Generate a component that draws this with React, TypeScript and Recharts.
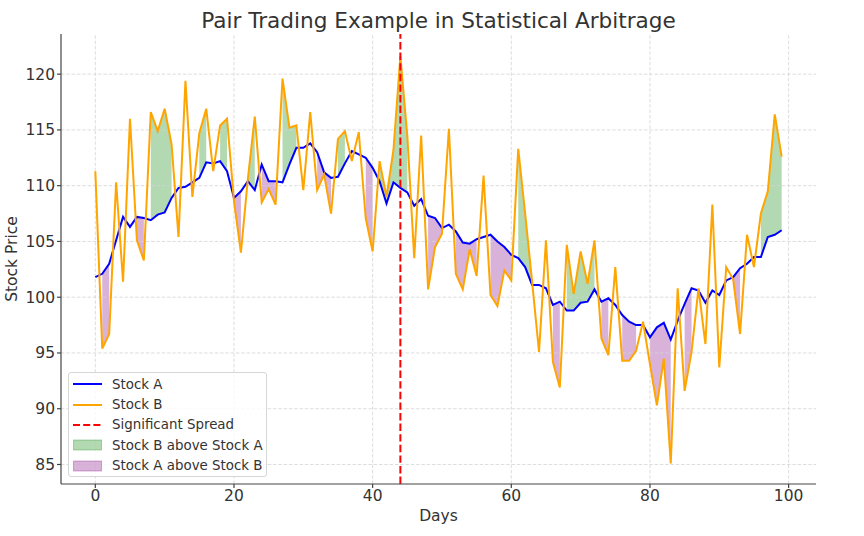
import { ComposedChart, Line, Area, XAxis, YAxis, ReferenceLine } from 'recharts';

const days: number[] = Array.from({ length: 100 }, (_, i) => i);

const stockA: number[] = [
  101.8, 102.1, 103.0, 105.1, 107.2, 106.3, 107.2, 107.1, 106.9, 107.4,
  107.6, 108.9, 109.8, 109.9, 110.3, 110.7, 112.1, 112.0, 112.2, 111.3,
  108.9, 109.5, 110.4, 109.6, 111.9, 110.4, 110.4, 110.3, 111.9, 113.4,
  113.4, 113.8, 113.0, 111.2, 110.7, 110.8, 112.0, 113.1, 112.8, 112.5,
  111.6, 110.4, 108.4, 110.3, 109.8, 109.4, 108.2, 108.8, 107.3, 107.1,
  106.2, 106.5, 105.9, 104.9, 104.8, 105.2, 105.4, 105.6, 105.0, 104.5,
  103.8, 103.5, 102.7, 101.1, 101.1, 100.8, 99.3, 99.6, 98.8, 98.8,
  99.5, 99.6, 100.7, 99.6, 99.9, 99.3, 98.4, 97.8, 97.5, 97.5,
  96.4, 97.3, 97.7, 96.2, 97.9, 99.4, 100.8, 100.6, 99.5, 100.6,
  100.2, 101.5, 101.8, 102.6, 103.0, 103.6, 103.6, 105.4, 105.6, 106.0,
];

const stockB: number[] = [
  111.3, 95.4, 96.7, 110.3, 101.4, 116.0, 105.1, 103.3, 116.6, 114.9,
  116.9, 113.7, 105.4, 119.4, 109.0, 114.7, 116.9, 111.3, 115.4, 116.0,
  108.6, 104.0, 110.6, 116.2, 108.5, 109.7, 108.3, 119.6, 115.2, 115.4,
  109.6, 116.6, 109.6, 111.0, 107.5, 114.2, 114.9, 112.2, 114.8, 107.1,
  104.1, 112.2, 109.0, 113.2, 121.6, 114.5, 103.5, 114.5, 100.7, 104.5,
  105.7, 115.1, 102.1, 100.7, 104.3, 101.9, 110.9, 100.2, 99.2, 102.4,
  101.5, 113.3, 107.5, 101.4, 95.1, 105.1, 94.2, 91.9, 104.7, 100.3,
  104.1, 101.2, 105.1, 96.3, 94.8, 102.7, 94.3, 94.3, 95.2, 97.8,
  94.0, 90.3, 94.5, 85.1, 100.8, 91.6, 95.1, 100.8, 95.8, 108.3,
  93.7, 102.7, 101.6, 96.7, 105.6, 102.7, 107.5, 109.5, 116.4, 112.6,
];

const xTicks: number[] = [0, 20, 40, 60, 80, 100];
const yTicks: number[] = [85, 90, 95, 100, 105, 110, 115, 120];
const spreadDay = 44;

const data = days.map((d, i) => {
  const a = stockA[i];
  const b = stockB[i];
  return {
    day: d,
    a,
    b,
    bAbove: b > a ? [a, b] : null,
    aAbove: a > b ? [b, a] : null,
  };
});

const FONT = '"DejaVu Sans", sans-serif';
const TEXT = '#333';
const GRID = { stroke: '#d4d4d4', strokeDasharray: '3.5 1.8', strokeWidth: 0.8 };

const legendItems = [
  { label: 'Stock A', kind: 'line', color: '#0000ff' },
  { label: 'Stock B', kind: 'line', color: '#ffa500' },
  { label: 'Significant Spread', kind: 'dash', color: '#ff0000' },
  { label: 'Stock B above Stock A', kind: 'patch', color: 'rgba(0,128,0,0.3)' },
  { label: 'Stock A above Stock B', kind: 'patch', color: 'rgba(128,0,128,0.3)' },
];

function Legend() {
  return (
    <div
      style={{
        position: 'absolute',
        left: 68,
        top: 372,
        width: 199,
        height: 105,
        boxSizing: 'border-box',
        border: '1px solid #d6d6d6',
        borderRadius: 3,
        background: 'rgba(255,255,255,0.8)',
        padding: '1px 0 0 4px',
        fontFamily: FONT,
        fontSize: 13.4,
        color: TEXT,
      }}
    >
      {legendItems.map((it) => (
        <div key={it.label} style={{ display: 'flex', alignItems: 'center', height: 20.4 }}>
          <svg width={29} height={12} style={{ marginRight: 10, flex: 'none' }}>
            {it.kind === 'line' && <line x1={0} x2={29} y1={6} y2={6} stroke={it.color} strokeWidth={2} />}
            {it.kind === 'dash' && (
              <line x1={0} x2={29} y1={6} y2={6} stroke={it.color} strokeWidth={2} strokeDasharray="7 3.2" />
            )}
            {it.kind === 'patch' && (
              <rect x={0.5} y={1} width={28} height={10} fill={it.color} stroke={it.color} />
            )}
          </svg>
          <span style={{ whiteSpace: 'nowrap' }}>{it.label}</span>
        </div>
      ))}
    </div>
  );
}

export default function App() {
  return (
    <div style={{ position: 'absolute', left: 0, top: 0, width: 864, height: 536, background: '#fff' }}>
      <div
        style={{
          position: 'absolute',
          left: 61,
          width: 755,
          top: 8,
          textAlign: 'center',
          fontFamily: FONT,
          fontSize: 21.6,
          color: TEXT,
          whiteSpace: 'nowrap',
        }}
      >
        Pair Trading Example in Statistical Arbitrage
      </div>
      <ComposedChart
        width={864}
        height={536}
        data={data}
        margin={{ top: 34, right: 48, bottom: 0, left: 0 }}
        style={{ position: 'absolute', left: 0, top: 0 }}
      >
        <XAxis
          dataKey="day"
          type="number"
          domain={[-4.95, 103.95]}
          ticks={xTicks}
          interval={0}
          height={52}
          allowDataOverflow
          stroke="#444"
          strokeWidth={1.2}
          tickSize={4}
          tickMargin={2}
          tick={{ fontSize: 15.5, fill: TEXT, fontFamily: FONT }}
        />
        <YAxis
          type="number"
          domain={[83.25, 123.6]}
          ticks={yTicks}
          interval={0}
          width={61}
          allowDataOverflow
          stroke="#444"
          strokeWidth={1.2}
          tickSize={4}
          tickMargin={2}
          tick={{ fontSize: 15.5, fill: TEXT, fontFamily: FONT }}
        />
        {/* dashed grid at tick values only */}
        {yTicks.map((t) => (
          <ReferenceLine key={`gy${t}`} y={t} {...GRID} />
        ))}
        {xTicks.map((t) => (
          <ReferenceLine key={`gx${t}`} x={t} {...GRID} />
        ))}
        <Area
          dataKey="bAbove"
          type="linear"
          stroke="none"
          fill="#008000"
          fillOpacity={0.3}
          isAnimationActive={false}
          activeDot={false}
        />
        <Area
          dataKey="aAbove"
          type="linear"
          stroke="none"
          fill="#800080"
          fillOpacity={0.3}
          isAnimationActive={false}
          activeDot={false}
        />
        <Line dataKey="a" type="linear" stroke="#0000ff" strokeWidth={2} dot={false} isAnimationActive={false} />
        <Line dataKey="b" type="linear" stroke="#ffa500" strokeWidth={2} dot={false} isAnimationActive={false} />
        <ReferenceLine x={spreadDay} stroke="#ff0000" strokeWidth={2} strokeDasharray="7.4 3.2" />
      </ComposedChart>
      <div
        style={{
          position: 'absolute',
          left: 61,
          width: 755,
          top: 507,
          textAlign: 'center',
          fontFamily: FONT,
          fontSize: 15.5,
          color: TEXT,
        }}
      >
        Days
      </div>
      <div
        style={{
          position: 'absolute',
          left: 12,
          top: 259,
          transform: 'translate(-50%, -50%) rotate(-90deg)',
          fontFamily: FONT,
          fontSize: 15.5,
          color: TEXT,
          whiteSpace: 'nowrap',
        }}
      >
        Stock Price
      </div>
      <Legend />
    </div>
  );
}
